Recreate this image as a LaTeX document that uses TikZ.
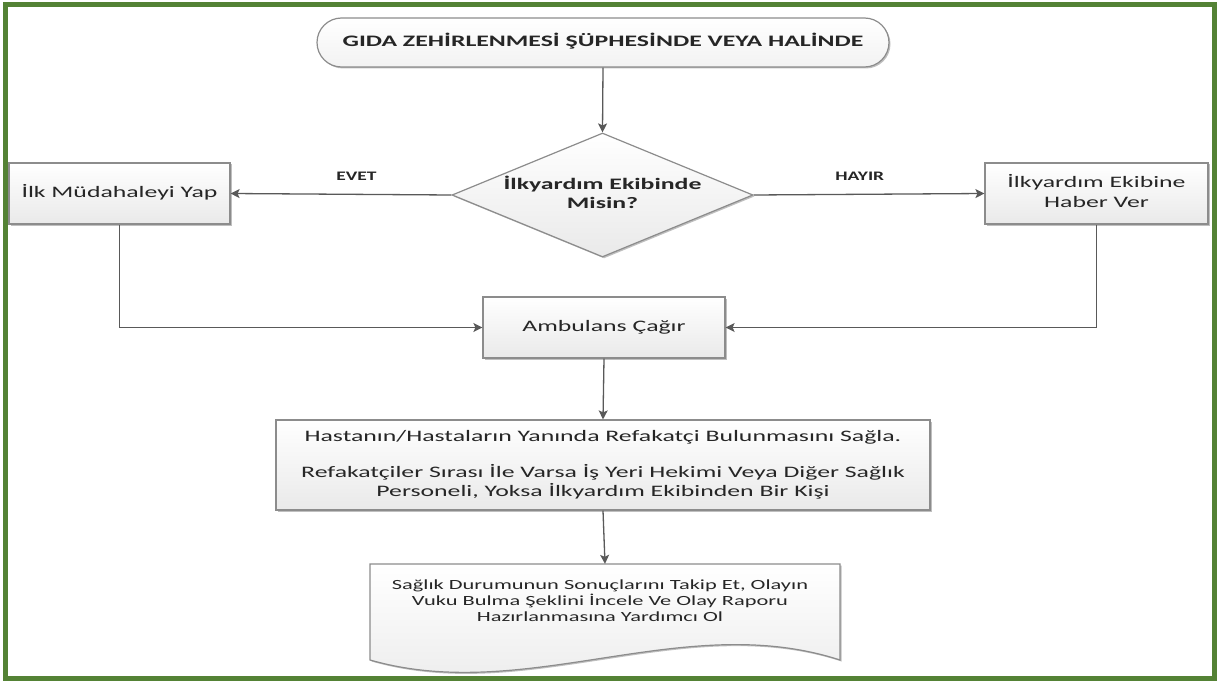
\documentclass[tikz,border=0pt]{standalone}
\usepackage{fontspec}
\setmainfont{Carlito}
\usepackage{graphicx}
\usetikzlibrary{shapes.geometric,arrows.meta,shadows}
\definecolor{gborder}{HTML}{548235}
\definecolor{lineg}{HTML}{595959}
\definecolor{boxline}{HTML}{8C8C8C}
\definecolor{txt}{HTML}{262626}
\newcommand{\sx}{1.61}
\newcommand{\wt}[1]{\scalebox{\sx}[1]{\begin{tabular}{@{}c@{}}#1\end{tabular}}}
\tikzset{
  shade/.style={top color=white, bottom color=gray!17},
  shad/.style={drop shadow={shadow xshift=1.5pt, shadow yshift=-1.5pt, opacity=0.25, fill=black}},
  box/.style={draw=boxline, line width=1.2pt, shade, shad, inner sep=0pt, text=txt,
    font=\fontsize{16}{19.5}\selectfont},
  plain/.style={inner sep=0pt, text=txt, font=\fontsize{16}{19.5}\selectfont},
  arr/.style={draw=lineg, line width=1.3pt, -{Stealth[length=9pt,width=9pt,inset=2pt]}},
  lbl/.style={inner sep=0pt, text=txt, font=\bfseries\fontsize{13}{15}\selectfont},
}
\begin{document}
\begin{tikzpicture}[x=1pt,y=-1pt]
\useasboundingbox (0,0) rectangle (1219,682);
\fill[white] (0,0) rectangle (1219,682);
\draw[gborder, line width=5pt] (5.5,5) rectangle (1214.5,678.5);

% title
\node[box, rounded corners=24.5pt, minimum width=572pt, minimum height=49pt,
      top color=white, bottom color=gray!10, font=\bfseries\fontsize{16}{19.5}\selectfont]
  (T) at (603,42.5) {\wt{GIDA ZEHİRLENMESİ ŞÜPHESİNDE VEYA HALİNDE}};

% decision
\node[draw=boxline, line width=1.2pt, shade, shad, shape=diamond, inner sep=0pt,
      minimum width=301pt, minimum height=124pt, aspect=2.43] (D) at (602.5,195) {};
\node[plain, font=\bfseries\fontsize{16}{19.5}\selectfont] (Dt) at (D.center) {\wt{İlkyardım Ekibinde\\Misin?}};

% side boxes
\node[box, minimum width=221pt, minimum height=61pt] (L) at (119.5,193.5) {\wt{İlk Müdahaleyi Yap}};
\node[box, minimum width=223pt, minimum height=61pt] (R) at (1096.5,193.5) {\wt{İlkyardım Ekibine\\Haber Ver}};

% ambulance
\node[box, minimum width=242pt, minimum height=61pt] (A) at (604,327.5) {\wt{Ambulans Çağır}};

% companion box
\node[box, minimum width=654pt, minimum height=90pt] (H) at (603,465) {\wt{Hastanın/Hastaların Yanında Refakatçi Bulunmasını Sağla.\\[16.5pt]
Refakatçiler Sırası İle Varsa İş Yeri Hekimi Veya Diğer Sağlık\\
Personeli, Yoksa İlkyardım Ekibinden Bir Kişi}};

% document shape
\node[inner sep=0pt, minimum width=470pt, minimum height=96pt] (Doc) at (605,612) {};
\path[draw=boxline, line width=1.2pt, shade, shad]
  (370,564) -- (840,564) -- (840,660) .. controls (683,609) and (527,705) .. (370,660) -- cycle;
\node[plain, font=\fontsize{14}{16}\selectfont] (Dct) at (600,602.5) {\scalebox{1.6}[1]{\begin{tabular}{@{}c@{}}Sağlık Durumunun Sonuçlarını Takip Et, Olayın\\
Vuku Bulma Şeklini İncele Ve Olay Raporu\\
Hazırlanmasına Yardımcı Ol\end{tabular}}};

% connectors
\draw[arr] (T.south) -- (D.north);
\draw[arr] (D.west) -- (L.east) node[lbl, pos=0.43, above=13pt] (ev) {\scalebox{1.5}[1]{EVET}};
\draw[arr] (D.east) -- (R.west) node[lbl, pos=0.46, above=13pt] (hy) {\scalebox{1.5}[1]{HAYIR}};
\draw[arr] (L.south) |- (A.west);
\draw[arr] (R.south) |- (A.east);
\draw[arr] (A.south) -- (H.north);
\draw[arr] (H.south) -- (Doc.north);
\end{tikzpicture}
\end{document}
